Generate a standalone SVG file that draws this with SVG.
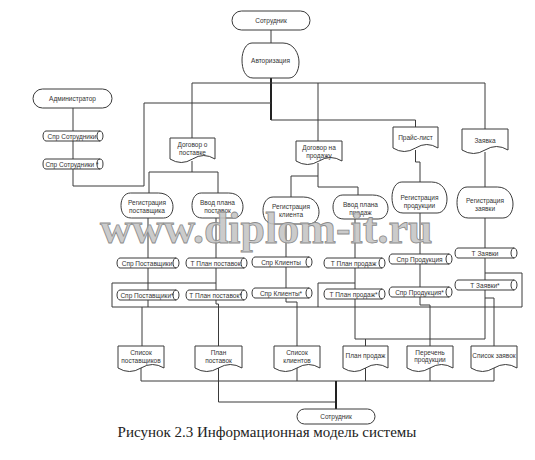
<svg xmlns="http://www.w3.org/2000/svg" width="535" height="460" viewBox="0 0 535 460">
<style>
.c{fill:none;stroke:#3a3a3a;stroke-width:1}
.t{fill:none;stroke:#222;stroke-width:2}
.s{fill:#fff;stroke:#3a3a3a;stroke-width:1}
.l{font-family:"Liberation Sans",Arial,sans-serif;font-size:6.5px;fill:#333;text-anchor:middle}
.cap{font-family:"Liberation Serif","Times New Roman",serif;font-size:15px;fill:#222;text-anchor:middle}
.wm{font-family:"Liberation Serif","Times New Roman",serif;font-weight:bold;font-size:44px;fill:#c4c4c4;fill-opacity:0.9;stroke:#8c8c8c;stroke-width:0.8}
</style>
<rect width="535" height="460" fill="#fff"/>
<g id="connectors">
<path class="c" d="M271,30 V43"/>
<path class="t" d="M271,78 V120"/>
<path class="c" d="M271,120 H415.5 V127"/>
<path class="c" d="M192,138 V83 H485 V129"/>
<path class="c" d="M318,83 V141"/>
<path class="c" d="M73,108 V186 H144 V103 H271"/>
<path class="c" d="M192,161 V172"/>
<path class="c" d="M149,193 V172 H218 V193"/>
<path class="c" d="M318,163 V187 H358 V195"/>
<path class="c" d="M291,197 V176 H318"/>
<path class="c" d="M415.5,150 V162 H420 V182"/>
<path class="c" d="M485,152 V187"/>
<path class="c" d="M148,218 V307"/>
<path class="c" d="M216,218 V304 H218.5 V346"/>
<path class="c" d="M112,307 V283 H216"/>
<path class="c" d="M112,307 H522 V273 H485"/>
<path class="c" d="M142,307 V346"/>
<path class="c" d="M286,224 V302 H297 V346"/>
<path class="c" d="M355,219 V339 H485"/>
<path class="c" d="M355,283 H318 V307"/>
<path class="c" d="M365.5,339 V346"/>
<path class="c" d="M420,213 V305 H430 V346"/>
<path class="c" d="M485,218 V339"/>
<path class="c" d="M485,298 H494 V346"/>
<path class="c" d="M141,366 V381 H494 V366"/>
<path class="c" d="M297,366 V381"/>
<path class="c" d="M365.5,366 V381"/>
<path class="c" d="M430,366 V381"/>
<path class="c" d="M218.5,366 V402 H336"/>
<path class="t" d="M336,381 V409"/>
</g>
<g id="n-sotrudnik-top"><rect class="s" x="232" y="11" width="78" height="19" rx="9.5"/><text class="l" x="271" y="23">Сотрудник</text></g>
<g id="n-avtorizaciya"><path class="s" d="M252,43 H283 C294,43 299,54 299,62 C299,71 295,78 289,78 H253 C245,78 242,69 242,60 C242,51 246,43 252,43 Z"/><text class="l" x="270.5" y="63">Авторизация</text></g>
<g id="n-administrator"><rect class="s" x="33" y="89" width="79" height="19" rx="9.5"/><text class="l" x="72.5" y="101">Администратор</text></g>
<g id="n-spr-sotr"><path class="s" d="M46,131 H100 A3,5 0 0 1 100,141 H46 A3,5 0 0 1 46,131 Z M100,131 A3,5 0 0 0 100,141"/><text class="l" x="72" y="138.5">Спр Сотрудники</text></g>
<g id="n-spr-sotr2"><path class="s" d="M46,159 H100 A3,5 0 0 1 100,169 H46 A3,5 0 0 1 46,159 Z M100,159 A3,5 0 0 0 100,169"/><text class="l" x="72" y="166.5">Спр Сотрудники *</text></g>
<g id="n-dog-post"><path class="s" d="M170,138 H215 V159 Q203.75,152 192.5,159 T170,159 Z"/><text class="l" x="192.5" y="147">Договор о</text><text class="l" x="192.5" y="155">поставке</text></g>
<g id="n-dog-prod"><path class="s" d="M296,141 H342 V161 Q330.5,154 319,161 T296,161 Z"/><text class="l" x="319" y="150">Договор на</text><text class="l" x="319" y="158">продажу</text></g>
<g id="n-prais"><path class="s" d="M393,127 H438 V148 Q426.75,141 415.5,148 T393,148 Z"/><text class="l" x="415.5" y="139.5">Прайс-лист</text></g>
<g id="n-zayavka"><path class="s" d="M462,129 H508 V150 Q496.5,143 485,150 T462,150 Z"/><text class="l" x="485" y="142.5">Заявка</text></g>
<g id="n-reg-post"><path class="s" d="M130.4,193 H158.4 C168.8,193 173,200.5 173,206.8 C173,213 169.4,218 163.6,218 H131.4 C123.6,218 121,211.8 121,205.5 C121,198.5 124.6,193 130.4,193 Z"/><text class="l" x="147" y="205">Регистрация</text><text class="l" x="147" y="213">поставщика</text></g>
<g id="n-vvod-post"><path class="s" d="M201.2,193 H228.7 C238.9,193 243,200.5 243,206.8 C243,213 239.4,218 233.8,218 H202.2 C194.6,218 192,211.8 192,205.5 C192,198.5 195.6,193 201.2,193 Z"/><text class="l" x="217.5" y="205">Ввод плана</text><text class="l" x="217.5" y="213">поставок</text></g>
<g id="n-reg-klient"><path class="s" d="M273.1,197 H303.3 C314.5,197 319,205.1 319,211.9 C319,218.6 315.1,224 308.9,224 H274.2 C265.8,224 263,217.3 263,210.5 C263,202.9 266.9,197 273.1,197 Z"/><text class="l" x="291" y="208.5">Регистрация</text><text class="l" x="291" y="216.5">клиента</text></g>
<g id="n-vvod-prod"><path class="s" d="M342.9,195 H372.6 C383.6,195 388,202.2 388,208.2 C388,214.2 384.2,219 378.1,219 H344 C335.8,219 333,213 333,207 C333,200.3 336.9,195 342.9,195 Z"/><text class="l" x="360.5" y="206.5">Ввод плана</text><text class="l" x="360.5" y="214.5">продаж</text></g>
<g id="n-reg-produkcii"><path class="s" d="M401.9,182 H431.6 C442.6,182 447,191.3 447,199 C447,206.8 443.2,213 437.1,213 H403 C394.8,213 392,205.3 392,197.5 C392,188.8 395.9,182 401.9,182 Z"/><text class="l" x="419.5" y="199.5">Регистрация</text><text class="l" x="419.5" y="207.5">продукции</text></g>
<g id="n-reg-zayavki"><path class="s" d="M467.1,187 H497.3 C508.5,187 513,196.3 513,204 C513,211.8 509.1,218 502.9,218 H468.2 C459.8,218 457,210.3 457,202.5 C457,193.8 460.9,187 467.1,187 Z"/><text class="l" x="485" y="202.5">Регистрация</text><text class="l" x="485" y="210.5">заявки</text></g>
<g id="n-spr-post"><path class="s" d="M120,258 H176 A3,5 0 0 1 176,268 H120 A3,5 0 0 1 120,258 Z M176,258 A3,5 0 0 0 176,268"/><text class="l" x="147" y="265.5">Спр Поставщики</text></g>
<g id="n-spr-post2"><path class="s" d="M120,290 H176 A3,5 0 0 1 176,300 H120 A3,5 0 0 1 120,290 Z M176,290 A3,5 0 0 0 176,300"/><text class="l" x="147" y="297.5">Спр Поставщики*</text></g>
<g id="n-t-plan-post"><path class="s" d="M189,258 H244 A3,5 0 0 1 244,268 H189 A3,5 0 0 1 189,258 Z M244,258 A3,5 0 0 0 244,268"/><text class="l" x="215.5" y="265.5">Т План поставок</text></g>
<g id="n-t-plan-post2"><path class="s" d="M189,290 H244 A3,5 0 0 1 244,300 H189 A3,5 0 0 1 189,290 Z M244,290 A3,5 0 0 0 244,300"/><text class="l" x="215.5" y="297.5">Т План поставок*</text></g>
<g id="n-spr-klient"><path class="s" d="M255,257 H309 A3,5 0 0 1 309,267 H255 A3,5 0 0 1 255,257 Z M309,257 A3,5 0 0 0 309,267"/><text class="l" x="281" y="264.5">Спр Клиенты</text></g>
<g id="n-spr-klient2"><path class="s" d="M255,288 H309 A3,5 0 0 1 309,298 H255 A3,5 0 0 1 255,288 Z M309,288 A3,5 0 0 0 309,298"/><text class="l" x="281" y="295.5">Спр Клиенты*</text></g>
<g id="n-t-plan-prod"><path class="s" d="M327,258 H382 A3,5 0 0 1 382,268 H327 A3,5 0 0 1 327,258 Z M382,258 A3,5 0 0 0 382,268"/><text class="l" x="353.5" y="265.5">Т План продаж</text></g>
<g id="n-t-plan-prod2"><path class="s" d="M327,289 H382 A3,5 0 0 1 382,299 H327 A3,5 0 0 1 327,289 Z M382,289 A3,5 0 0 0 382,299"/><text class="l" x="353.5" y="296.5">Т План продаж*</text></g>
<g id="n-spr-produkciya"><path class="s" d="M392,254 H449 A3,5 0 0 1 449,264 H392 A3,5 0 0 1 392,254 Z M449,254 A3,5 0 0 0 449,264"/><text class="l" x="419.5" y="261.5">Спр Продукция</text></g>
<g id="n-spr-produkciya2"><path class="s" d="M392,287 H449 A3,5 0 0 1 449,297 H392 A3,5 0 0 1 392,287 Z M449,287 A3,5 0 0 0 449,297"/><text class="l" x="419.5" y="294.5">Спр Продукция*</text></g>
<g id="n-t-zayavki"><path class="s" d="M458,248 H514 A3,5 0 0 1 514,258 H458 A3,5 0 0 1 458,248 Z M514,248 A3,5 0 0 0 514,258"/><text class="l" x="485" y="255.5">Т Заявки</text></g>
<g id="n-t-zayavki2"><path class="s" d="M458,280 H514 A3,5 0 0 1 514,290 H458 A3,5 0 0 1 458,280 Z M514,280 A3,5 0 0 0 514,290"/><text class="l" x="485" y="287.5">Т Заявки*</text></g>
<g id="n-spisok-post"><path class="s" d="M118,346 H164 V368 Q152.5,361 141,368 T118,368 Z"/><text class="l" x="141" y="354.5">Список</text><text class="l" x="141" y="362.5">поставщиков</text></g>
<g id="n-plan-post"><path class="s" d="M195,346 H242 V368 Q230.25,361 218.5,368 T195,368 Z"/><text class="l" x="218.5" y="354.5">План</text><text class="l" x="218.5" y="362.5">поставок</text></g>
<g id="n-spisok-klient"><path class="s" d="M274,346 H320 V368 Q308.5,361 297,368 T274,368 Z"/><text class="l" x="297" y="354.5">Список</text><text class="l" x="297" y="362.5">клиентов</text></g>
<g id="n-plan-prod"><path class="s" d="M343,346 H388 V368 Q376.75,361 365.5,368 T343,368 Z"/><text class="l" x="365.5" y="357.5">План продаж</text></g>
<g id="n-perechen"><path class="s" d="M407,346 H453 V368 Q441.5,361 430,368 T407,368 Z"/><text class="l" x="430" y="354.5">Перечень</text><text class="l" x="430" y="362">продукции</text></g>
<g id="n-spisok-zayavok"><path class="s" d="M471,346 H517 V368 Q505.5,361 494,368 T471,368 Z"/><text class="l" x="494" y="357.5">Список заявок</text></g>
<g id="n-sotrudnik-bottom"><rect class="s" x="297" y="409" width="78" height="15" rx="7.5"/><text class="l" x="336" y="419">Сотрудник</text></g>
<text class="wm" x="100" y="243">www.diplom-it.ru</text>
<text class="cap" x="267" y="437">Рисунок 2.3 Информационная модель системы</text>
</svg>
